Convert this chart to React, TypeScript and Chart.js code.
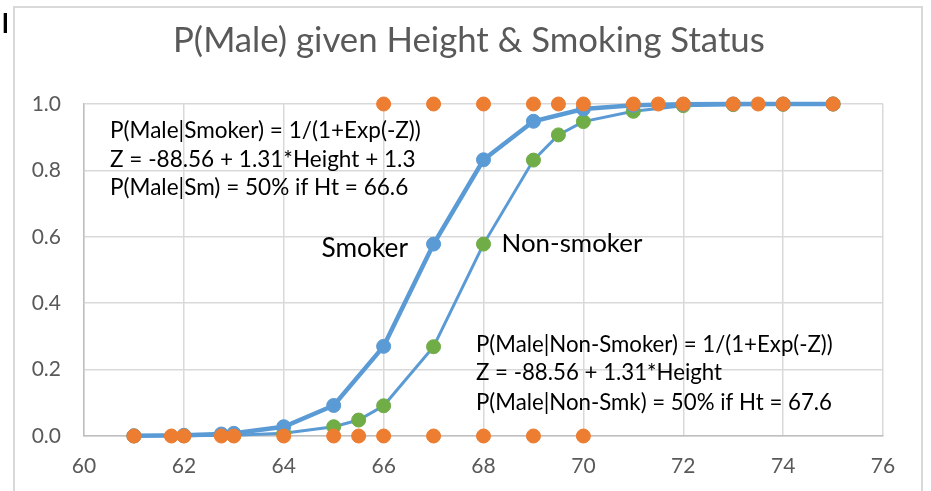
import React, { useEffect, useRef } from "react";
import { Chart, registerables } from "chart.js";

Chart.register(...registerables);

// ---------- data ----------
const chartTitle = "P(Male) given Height & Smoking Status";

const xMin = 60;
const xMax = 76;
const xStep = 2;
const yMin = 0;
const yMax = 1;
const yStep = 0.2;

// observed outcomes (0 = female, 1 = male)
const observedFemaleHeights = [61, 61.75, 62, 62.75, 63, 64, 65, 65.5, 66, 67, 68, 69, 70];
const observedMaleHeights = [66, 67, 68, 69, 69.5, 70, 71, 71.5, 72, 73, 73.5, 74, 75];

// fitted probability for smokers
const smokerHeights = [61, 62, 62.75, 63, 64, 65, 66, 67, 68, 69, 70, 71, 72, 73, 74, 75];
const smokerProb = [0.0005, 0.002, 0.006, 0.008, 0.028, 0.092, 0.27, 0.578, 0.832, 0.948, 0.985, 0.996, 0.999, 1.0, 1.0, 1.0];

// fitted probability for non-smokers
const nonSmokerHeights = [61, 62, 63, 64, 65, 65.5, 66, 67, 68, 69, 69.5, 70, 71, 72, 73, 74, 75];
const nonSmokerProb = [0.0002, 0.0006, 0.002, 0.008, 0.028, 0.048, 0.091, 0.269, 0.578, 0.831, 0.907, 0.947, 0.978, 0.995, 0.998, 0.999, 1.0];

const smokerNote = [
  "P(Male|Smoker) = 1/(1+Exp(-Z))",
  "Z = -88.56 + 1.31*Height + 1.3",
  "P(Male|Sm) = 50% if Ht = 66.6",
];
const nonSmokerNote = [
  "P(Male|Non-Smoker) = 1/(1+Exp(-Z))",
  "Z = -88.56 + 1.31*Height",
  "P(Male|Non-Smk) = 50% if Ht = 67.6",
];
const smokerLabel = "Smoker";
const nonSmokerLabel = "Non-smoker";

// ---------- styles ----------
const FONT = "Lato, 'Open Sans', sans-serif";
const BLUE = "#5B9BD5";
const ORANGE = "#ED7D31";
const GREEN = "#70AD47";
const GRID = "#d9d9d9";
const AXIS = "#bfbfbf";
const TEXT_GRAY = "#595959";

function fitSize(ctx: CanvasRenderingContext2D, text: string, width: number) {
  ctx.font = `100px ${FONT}`;
  const w = ctx.measureText(text).width;
  return (100 * width) / w;
}

const textPlugin = {
  id: "textPlugin",
  beforeDraw(chart: any) {
    const ctx: CanvasRenderingContext2D = chart.ctx;
    ctx.save();
    ctx.fillStyle = "#ffffff";
    ctx.fillRect(0, 0, chart.width, chart.height);
    ctx.strokeStyle = GRID;
    ctx.lineWidth = 2;
    ctx.strokeRect(14, 7, 908, 520);
    ctx.restore();
  },
  afterDraw(chart: any) {
    const ctx: CanvasRenderingContext2D = chart.ctx;
    ctx.save();
    ctx.textAlign = "left";
    ctx.textBaseline = "alphabetic";

    // title
    const ts = fitSize(ctx, chartTitle, 592);
    ctx.font = `${ts}px ${FONT}`;
    ctx.fillStyle = TEXT_GRAY;
    ctx.fillText(chartTitle, 173, 52);

    // smoker note
    ctx.fillStyle = "#000000";
    const s1 = fitSize(ctx, smokerNote[0], 311);
    ctx.font = `${s1}px ${FONT}`;
    const sy = [138, 167, 195];
    smokerNote.forEach((t, i) => ctx.fillText(t, 110, sy[i]));

    // non-smoker note
    const s2 = fitSize(ctx, nonSmokerNote[0], 357);
    ctx.font = `${s2}px ${FONT}`;
    const ny = [351.5, 380, 410];
    nonSmokerNote.forEach((t, i) => ctx.fillText(t, 476, ny[i]));

    // series labels
    const s3 = fitSize(ctx, smokerLabel, 86.5);
    ctx.font = `${s3}px ${FONT}`;
    ctx.fillText(smokerLabel, 321.5, 257);
    const s4 = fitSize(ctx, nonSmokerLabel, 141);
    ctx.font = `${s4}px ${FONT}`;
    ctx.fillText(nonSmokerLabel, 501.5, 251.5);

    // cropped text fragments at the far left
    ctx.font = `bold 27px ${FONT}`;
    ctx.fillText("l", 2, 33);
    ctx.fillText(")", -7, 132);
    ctx.restore();
  },
};

export default function App() {
  const ref = useRef<HTMLCanvasElement>(null);

  useEffect(() => {
    document.body.style.margin = "0";
    const observed = [
      ...observedFemaleHeights.map((x) => ({ x, y: 0 })),
      ...observedMaleHeights.map((x) => ({ x, y: 1 })),
    ];
    const smoker = smokerHeights.map((x, i) => ({ x, y: smokerProb[i] }));
    const nonSmoker = nonSmokerHeights.map((x, i) => ({ x, y: nonSmokerProb[i] }));

    const chart = new Chart(ref.current as HTMLCanvasElement, {
      type: "scatter",
      data: {
        datasets: [
          {
            label: "Observed",
            data: observed,
            showLine: false,
            pointRadius: 7,
            pointBorderWidth: 1,
            pointBackgroundColor: ORANGE,
            pointBorderColor: ORANGE,
            clip: false as any,
          },
          {
            label: "Smoker",
            data: smoker,
            showLine: true,
            borderColor: BLUE,
            borderWidth: 4.5,
            tension: 0,
            pointRadius: 7,
            pointBorderWidth: 1,
            pointBackgroundColor: BLUE,
            pointBorderColor: BLUE,
            clip: false as any,
          },
          {
            label: "Non-smoker",
            data: nonSmoker,
            showLine: true,
            borderColor: BLUE,
            borderWidth: 3,
            tension: 0,
            pointRadius: 7,
            pointBorderWidth: 1,
            pointBackgroundColor: GREEN,
            pointBorderColor: GREEN,
            clip: false as any,
          },
        ],
      },
      options: {
        responsive: false,
        animation: false,
        devicePixelRatio: 1,
        layout: {
          autoPadding: false,
          padding: { left: 13, right: 48, top: 104, bottom: 0 },
        },
        plugins: {
          legend: { display: false },
          title: { display: false },
          tooltip: { enabled: false },
        },
        scales: {
          x: {
            type: "linear",
            min: xMin,
            max: xMax,
            afterFit: (s: any) => {
              s.height = 55;
            },
            ticks: {
              stepSize: xStep,
              color: TEXT_GRAY,
              font: { family: FONT, size: 21 },
              padding: 18,
            },
            grid: { color: GRID, lineWidth: 1.5, drawTicks: false },
            border: { color: AXIS, width: 1.5 },
          },
          y: {
            type: "linear",
            min: yMin,
            max: yMax,
            afterFit: (s: any) => {
              s.width = 71;
            },
            ticks: {
              stepSize: yStep,
              color: TEXT_GRAY,
              font: { family: FONT, size: 21 },
              padding: 23,
              callback: (v: any) => Number(v).toFixed(1),
            },
            grid: { color: GRID, lineWidth: 1.5, drawTicks: false },
            border: { color: AXIS, width: 1.5 },
          },
        },
      },
      plugins: [textPlugin],
    });
    return () => chart.destroy();
  }, []);

  return (
    <div style={{ position: "absolute", left: 0, top: 0, width: 931, height: 491, background: "#fff" }}>
      <canvas ref={ref} width={931} height={491} style={{ display: "block" }} />
    </div>
  );
}
